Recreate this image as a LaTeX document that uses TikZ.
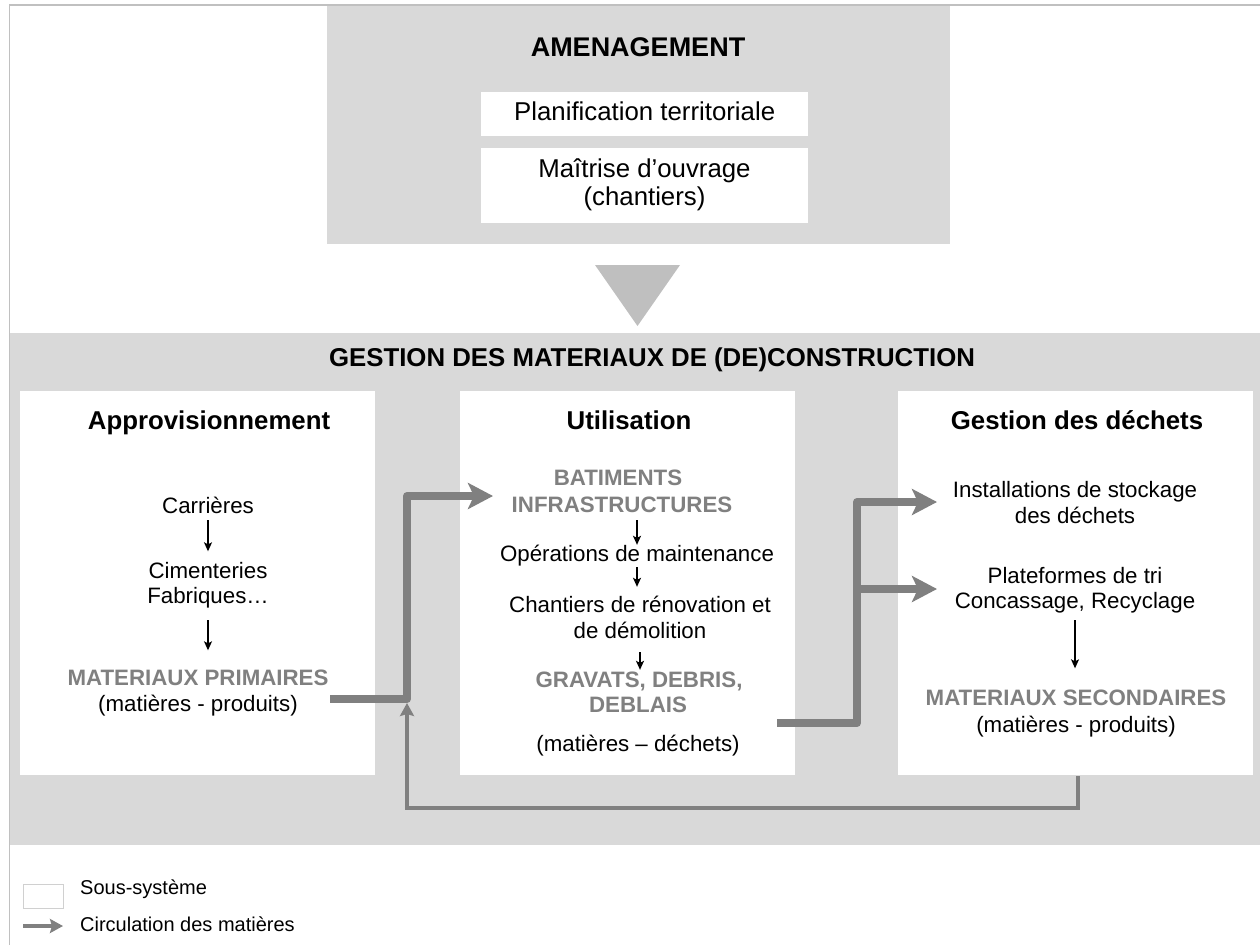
\documentclass[tikz,border=0pt]{standalone}
\usepackage{fontspec}
\setmainfont{Liberation Sans}
\usetikzlibrary{arrows.meta}
\definecolor{bandgray}{HTML}{D9D9D9}
\definecolor{trigray}{HTML}{BFBFBF}
\definecolor{flowgray}{HTML}{808080}
\definecolor{edgegray}{HTML}{C0C0C0}
\definecolor{legendedge}{HTML}{D0D0D0}
\newcommand\fbody{\fontsize{22.3}{26}\selectfont}
\newcommand\fbig{\fontsize{25.8}{29}\selectfont}
\newcommand\fhuge{\fontsize{27}{31}\selectfont}
\newcommand\flegend{\fontsize{20}{24}\selectfont}
\tikzset{
  txt/.style={font=\fbody, inner sep=0, text height=16, text depth=5},
  grayb/.style={txt, font=\fbody\bfseries, text=flowgray},
  ttl/.style={font=\fbig\bfseries, inner sep=0, text height=18, text depth=5},
  bigtxt/.style={font=\fbig, inner sep=0, text height=18, text depth=6},
  wbox/.style={fill=white, draw=none, inner sep=0, anchor=north west},
  graybox/.style={fill=bandgray, draw=none, inner sep=0, anchor=north west},
  sarrow/.style={draw=black, line width=1.3, -{Stealth[length=9,width=8,inset=2]}},
  flow/.style={draw=flowgray, line width=8, line join=round, -{Stealth[length=25,width=26,inset=6]}},
  flowret/.style={draw=flowgray, line width=3.5, -{Stealth[length=13,width=14,inset=2]}},
  legtxt/.style={font=\flegend, inner sep=0, anchor=west, text height=14, text depth=4}
}
\begin{document}
\begin{tikzpicture}[x=1pt,y=-1pt]
\useasboundingbox (0,0) rectangle (1260,945);
% frame lines
\draw[edgegray, line width=1.5] (9.5,945) -- (9.5,5) -- (1260,5);
% top box
\node[graybox, minimum width=623, minimum height=238] (top) at (327,6) {};
\node[ttl, font=\fhuge\bfseries] (amen) at (638,50) {AMENAGEMENT};
\node[wbox, minimum width=327, minimum height=44] (plan) at (481,92) {};
\node[bigtxt] (plant) at (plan.center) {Planification territoriale};
\node[wbox, minimum width=327, minimum height=75] (moa) at (481,148) {};
\node[bigtxt] (moa1) at (644.5,171) {Maîtrise d’ouvrage};
\node[bigtxt] (moa2) at (644.5,199) {(chantiers)};
% triangle
\fill[trigray] (595,265) -- (680,265) -- (637.5,326) -- cycle;
% band
\node[graybox, minimum width=1250, minimum height=512] (band) at (10,333) {};
\node[ttl] (gest) at (652,360) {GESTION DES MATERIAUX DE (DE)CONSTRUCTION};
% column boxes
\node[wbox, minimum width=355, minimum height=384] (lbox) at (20,391) {};
\node[wbox, minimum width=335, minimum height=384] (mbox) at (460,391) {};
\node[wbox, minimum width=355, minimum height=384] (rbox) at (898,391) {};
\node[ttl] (lt) at (209,423) {Approvisionnement};
\node[ttl] (mt) at (629,423) {Utilisation};
\node[ttl] (rt) at (1077,423) {Gestion des déchets};
% left column
\node[txt] (carr) at (208,508) {Carrières};
\node[txt] (cim) at (208,573) {Cimenteries};
\node[txt] (fab) at (208,598) {Fabriques…};
\node[grayb] (mp) at (198,680) {MATERIAUX PRIMAIRES};
\node[txt] (mpp) at (198,706) {(matières - produits)};
\draw[sarrow, shorten <=1.5, shorten >=11] (carr.south) -- (cim.north);
\draw[sarrow, shorten <=11.5, shorten >=19] (fab.south) -- (fab.south |- mp.north);
% middle column
\node[grayb] (bat) at (618,480) {BATIMENTS};
\node[grayb] (infra) at (622,507) {INFRASTRUCTURES};
\node[txt] (oper) at (637,556) {Opérations de maintenance};
\node[txt] (chan) at (640,607) {Chantiers de rénovation et};
\node[txt] (demo) at (640,633) {de démolition};
\node[grayb] (grav) at (639,682) {GRAVATS, DEBRIS,};
\node[grayb] (debl) at (638,707) {DEBLAIS};
\node[txt] (mdech) at (638,746) {(matières – déchets)};
\draw[sarrow, shorten <=2.5, shorten >=0.5] (infra.south -| oper.north) -- (oper.north);
\draw[sarrow, shorten <=0.5, shorten >=9.5] (oper.south) -- (oper.south |- chan.north);
\draw[sarrow, shorten <=8.5, shorten >=1.5] (demo.south) -- (demo.south |- grav.north);
% right column
\node[txt] (inst) at (1075,492) {Installations de stockage};
\node[txt] (idech) at (1075,518) {des déchets};
\node[txt] (plat) at (1075,578) {Plateformes de tri};
\node[txt] (conc) at (1075,603) {Concassage, Recyclage};
\node[grayb] (msec) at (1076,700) {MATERIAUX SECONDAIRES};
\node[txt] (msp) at (1076,727) {(matières - produits)};
\draw[sarrow, shorten <=6.5, shorten >=21] (conc.south) -- (conc.south |- msec.north);
% flows
\coordinate (f1s) at (330,699);
\coordinate (f1a) at (407,699);
\coordinate (f1b) at (407,496);
\coordinate (f1e) at (493,496);
\draw[flow] (f1s) -- (f1a) -- (f1b) -- (f1e);
\coordinate (f2s) at (777,723);
\coordinate (f2a) at (857,723);
\coordinate (f2b) at (857,502);
\coordinate (f2e) at (937,502);
\coordinate (f2m) at (857,589);
\coordinate (f2me) at (937,589);
\draw[flow] (f2s) -- (f2a) -- (f2b) -- (f2e);
\draw[flow] (f2m) -- (f2me);
\coordinate (r0) at (1078,776);
\coordinate (r1) at (1078,808);
\coordinate (r2) at (407,808);
\coordinate (r3) at (407,703);
\draw[flowret] (r0) -- (r1) -- (r2) -- (r3);
% legend
\node[fill=white, draw=legendedge, line width=1, inner sep=0, minimum width=40, minimum height=24, anchor=north west] (legbox) at (23,884) {};
\node[legtxt] (leg1) at (80,889) {Sous-système};
\coordinate (la) at (23,926);
\coordinate (lb) at (63,926);
\draw[flowret, line width=4] (la) -- (lb);
\node[legtxt] (leg2) at (80,926) {Circulation des matières};
\end{tikzpicture}
\end{document}
